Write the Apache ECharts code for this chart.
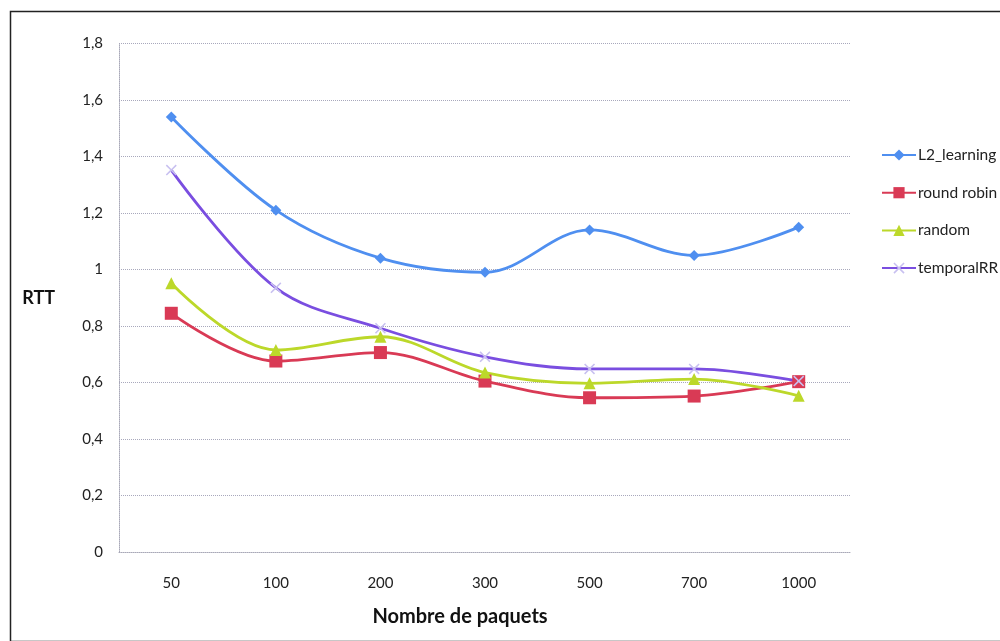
<!DOCTYPE html>
<html>
<head>
<meta charset="utf-8">
<script src="https://cdn.jsdelivr.net/npm/echarts@6/dist/echarts.min.js"></script>
<style>
html,body{margin:0;padding:0;background:#fff;}
#c{width:1000px;height:641px;}
</style>
</head>
<body>
<div id="c"></div>
<script>
const categories = ['50','100','200','300','500','700','1000'];
const l2Learning = [1.54, 1.21, 1.04, 0.99, 1.14, 1.05, 1.15];
const roundRobin = [0.845, 0.676, 0.706, 0.605, 0.546, 0.552, 0.603];
const randomVals = [0.951, 0.715, 0.762, 0.635, 0.597, 0.612, 0.553];
const temporalRR = [1.352, 0.935, 0.792, 0.691, 0.648, 0.648, 0.605];
const seriesNames = ['L2_learning', 'round robin', 'random', 'temporalRR'];

const FONT = 'Lato, "Open Sans", sans-serif';
const chart = echarts.init(document.getElementById('c'), null, {renderer: 'canvas'});
const xPath = 'path://M0,1L1,0L5,4L9,0L10,1L6,5L10,9L9,10L5,6L1,10L0,9L4,5Z';

function mk(name, data, color, symbol, size, symColor) {
  return {
    name: name, type: 'line', data: data, smooth: 0.35,
    symbol: symbol, symbolSize: size, showSymbol: true,
    lineStyle: {color: color, width: 2.8},
    itemStyle: {color: symColor || color, borderWidth: 0},
    emphasis: {disabled: true}
  };
}

chart.setOption({
  animation: false,
  backgroundColor: '#fff',
  grid: {left: 119, right: 149, top: 43.5, bottom: 89, containLabel: false},
  graphic: [{
    type: 'rect', left: 8, top: 9, z: 100, silent: true,
    shape: {x: 0, y: 0, width: 1000, height: 630},
    style: {fill: 'none', stroke: '#222', lineWidth: 1.5}
  }],
  legend: {
    orient: 'vertical', left: 876, top: 142,
    itemWidth: 34, itemHeight: 14, itemGap: 21.7,
    textStyle: {fontFamily: FONT, fontSize: 15.5, color: '#222', padding: [0,0,0,-3]},
    data: seriesNames
  },
  xAxis: {
    type: 'category', data: categories, boundaryGap: true,
    name: 'Nombre de paquets', nameLocation: 'middle', nameGap: 55,
    nameTextStyle: {fontFamily: FONT, fontSize: 20, fontWeight: 'bold', color: '#111', padding: [0,50,0,0]},
    axisLine: {show: true, lineStyle: {color: '#a8a8b8', type: 'dotted', width: 1}},
    axisTick: {show: false},
    axisLabel: {fontFamily: FONT, fontSize: 15, color: '#222', margin: 24}
  },
  yAxis: {
    type: 'value', min: 0, max: 1.8, interval: 0.2,
    name: 'RTT', nameLocation: 'middle', nameRotate: 0, nameGap: 64,
    nameTextStyle: {fontFamily: FONT, fontSize: 18, fontWeight: 'bold', color: '#111', padding: [0,0,44,0]},
    axisLine: {show: true, lineStyle: {color: '#a8a8b8', type: 'dotted', width: 1}},
    axisTick: {show: false},
    axisLabel: {fontFamily: FONT, fontSize: 15, color: '#222', margin: 16,
      formatter: v => String(Math.round(v*10)/10).replace('.', ',')},
    splitLine: {show: true, lineStyle: {color: '#a8a8bc', type: 'dotted', width: 1}}
  },
  series: [
    mk(seriesNames[0], l2Learning, '#4f8ff0', 'diamond', 11),
    mk(seriesNames[1], roundRobin, '#d93a55', 'rect', 13),
    mk(seriesNames[2], randomVals, '#bcd82a', 'triangle', 12),
    mk(seriesNames[3], temporalRR, '#7a4ee0', xPath, 11, '#c8c0f0')
  ]
});
</script>
</body>
</html>
